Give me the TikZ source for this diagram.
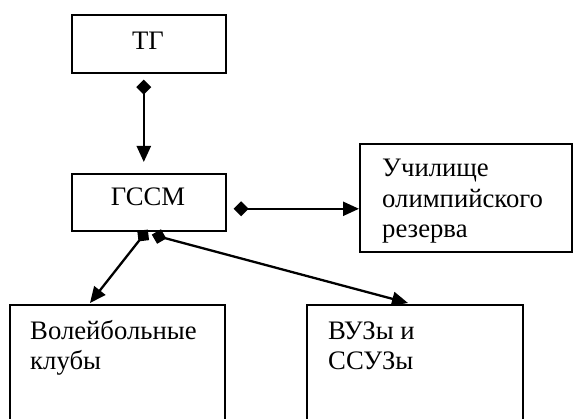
\documentclass[tikz,border=0pt]{standalone}
\usepackage{fontspec}
\setmainfont{Liberation Serif}
\usetikzlibrary{arrows.meta,calc}
\begin{document}
\begin{tikzpicture}[x=1pt,y=-1pt,
  box/.style={draw,line width=1.6pt,inner sep=0pt,anchor=north west},
  txt/.style={inner sep=0pt,font=\fontsize{26.7}{30.5}\selectfont},
  conn/.style={line width=2.3pt,{Diamond[length=15pt,width=15pt]}-{Triangle[length=16pt,width=14pt]}}
]
\useasboundingbox (0,0) rectangle (573,419);
\clip (0,0) rectangle (573,419);
\node[box,minimum width=154pt,minimum height=58pt] (tg) at (71,14) {};
\node[txt,anchor=base] (tgt) at (148,50) {ТГ};
\node[box,minimum width=154pt,minimum height=57pt] (gssm) at (71,173) {};
\node[txt,anchor=base] (gssmt) at (148,206) {ГССМ};
\node[box,minimum width=212pt,minimum height=108pt] (uch) at (359,143) {};
\node[txt,anchor=base west,align=left] (ucht) at (382,238) {Училище\\олимпийского\\резерва};
\node[box,minimum width=215pt,minimum height=140pt] (vb) at (9,304) {};
\node[txt,anchor=base west,align=left] (vbt) at (30,370) {Волейбольные\\клубы};
\node[box,minimum width=216pt,minimum height=140pt] (vuz) at (306,304) {};
\node[txt,anchor=base west,align=left] (vuzt) at (328,370) {ВУЗы и\\ССУЗы};
\coordinate (a1) at ($(tg.south)+(-5,6)$);
\coordinate (a2) at ($(gssm.north)+(-5,-11)$);
\coordinate (b1) at ($(gssm.east)+(7,6.5)$);
\coordinate (b2) at ($(uch.west)+(0,11)$);
\coordinate (c1) at ($(gssm.south)+(-1,-2)$);
\coordinate (c2) at ($(vb.north west)+(81,-1)$);
\coordinate (d1) at ($(gssm.south)+(3,3)$);
\coordinate (d2) at ($(vuz.north west)+(102,-1)$);
\draw[conn] (a1) -- (a2);
\draw[conn] (b1) -- (b2);
\draw[conn] (c1) -- (c2);
\draw[conn] (d1) -- (d2);
\end{tikzpicture}
\end{document}
